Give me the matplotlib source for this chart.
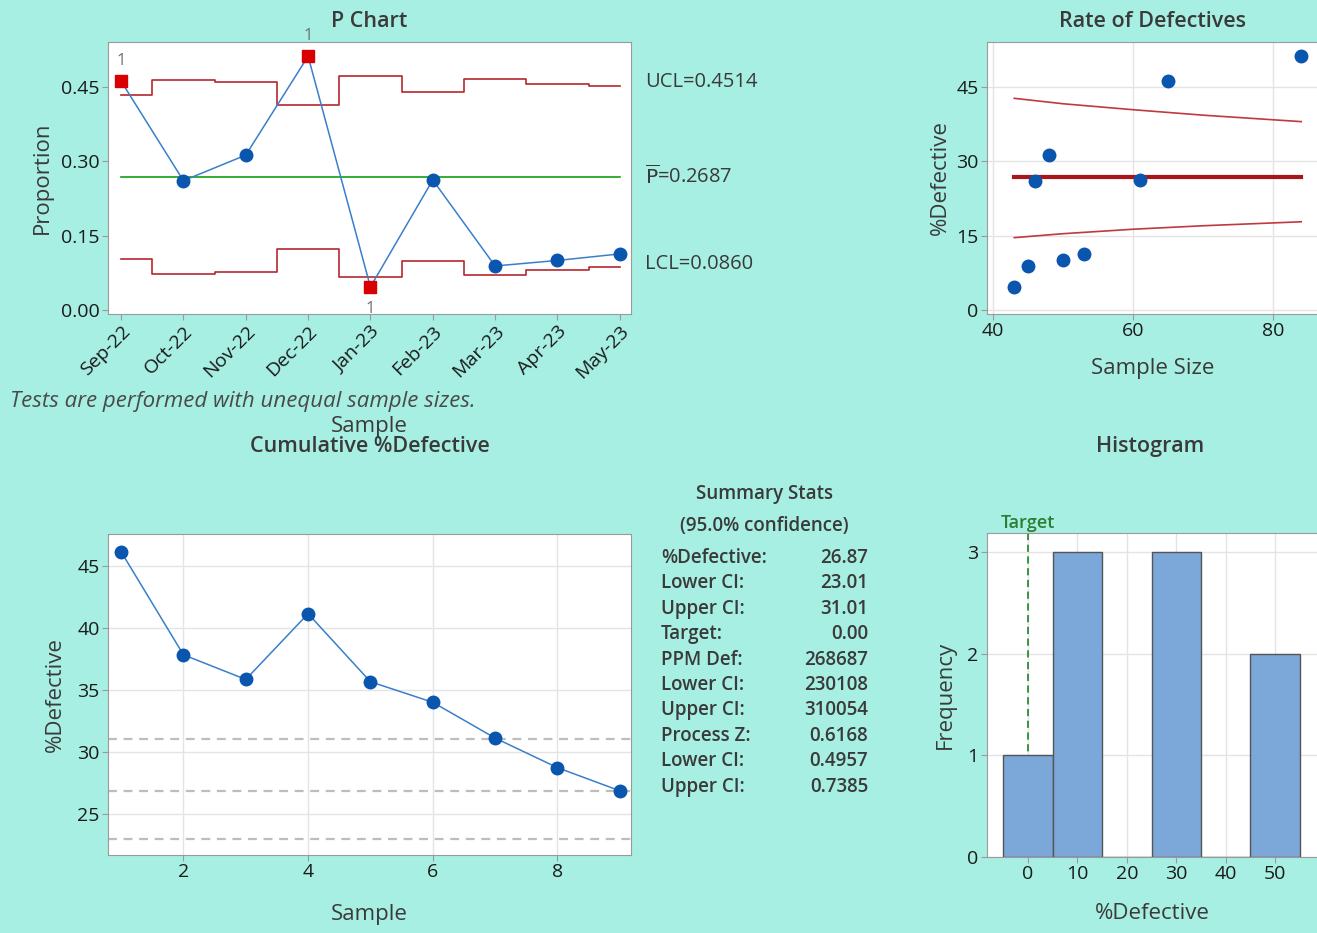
import numpy as np
import matplotlib
matplotlib.use("Agg")
import matplotlib.pyplot as plt

plt.rcParams['font.family'] = ['Open Sans', 'DejaVu Sans']

months = ['Sep-22', 'Oct-22', 'Nov-22', 'Dec-22', 'Jan-23', 'Feb-23', 'Mar-23', 'Apr-23', 'May-23']
sample_size = np.array([65, 46, 48, 84, 43, 61, 45, 50, 53])
defectives = np.array([30, 12, 15, 43, 2, 16, 4, 5, 6])
out_of_control = [0, 3, 4]   # index of samples failing test 1

# limit lines of the rate-of-defectives panel
lim_n = [43, 50, 60, 70, 84]
lim_upper = [42.7, 41.6, 40.4, 39.3, 38.0]
lim_lower = [14.6, 15.4, 16.3, 17.0, 17.8]

stat_names = ['%Defective:', 'Lower CI:', 'Upper CI:', 'Target:', 'PPM Def:', 'Lower CI:',
              'Upper CI:', 'Process Z:', 'Lower CI:', 'Upper CI:']
stat_values = ['26.87', '23.01', '31.01', '0.00', '268687', '230108', '310054', '0.6168', '0.4957', '0.7385']
ci_low, ci_high = 23.01, 31.01
target = 0.0

prop = defectives / sample_size
pbar = defectives.sum() / sample_size.sum()
sig = np.sqrt(pbar * (1 - pbar) / sample_size)
ucl = pbar + 3 * sig
lcl = np.clip(pbar - 3 * sig, 0, None)
cum_pct = 100 * np.cumsum(defectives) / np.cumsum(sample_size)
x = np.arange(1, len(months) + 1)

BG = '#A7EFE3'
BLUE = '#0A56AE'
LINE = '#3A7FCC'
RED = '#B5272D'
TXT = '#3A3A3A'
W, H = 1317, 933
TICK = 14
LAB = 16
TTL = 15.5

fig = plt.figure(figsize=(W / 100, H / 100), dpi=100, facecolor=BG)


def ax_px(l, t, r, b):
    return fig.add_axes([l / W, 1 - b / H, (r - l) / W, (b - t) / H])


def style(ax, grid=True):
    for s in ax.spines.values():
        s.set_color('#9A9A9A')
    ax.tick_params(colors='#9A9A9A', labelcolor='#1A1A1A', labelsize=TICK, length=4, pad=2)
    if grid:
        ax.grid(True, color='#E4E4E4', lw=1)
        ax.set_axisbelow(True)


def ftext(px, py, s, **kw):
    return fig.text(px / W, 1 - py / H, s, **kw)


# P chart
ax1 = ax_px(108, 42, 631, 314)
style(ax1, grid=False)
ax1.step(x, ucl, where='mid', color=RED, lw=1.2)
ax1.step(x, lcl, where='mid', color=RED, lw=1.2)
ax1.plot([1, 9], [pbar, pbar], color='#11A011', lw=1.2)
ax1.plot(x, prop, color=LINE, lw=1.1)
ok = [i for i in range(len(x)) if i not in out_of_control]
ax1.plot(x[ok], prop[ok], 'o', color=BLUE, ms=9)
ax1.plot(x[out_of_control], prop[out_of_control], 's', color='#D80000', ms=9)
for i in out_of_control:
    dy = -0.045 if prop[i] < pbar else 0.04
    ax1.text(x[i], prop[i] + dy, '1', color='#6E6E6E', ha='center', va='center', fontsize=12,
             clip_on=False)
ax1.set_xlim(0.79, 9.18)
ax1.set_ylim(-0.008, 0.5406)
ax1.set_yticks([0.0, 0.15, 0.30, 0.45])
ax1.set_yticklabels(['0.00', '0.15', '0.30', '0.45'])
ax1.set_xticks(x)
ax1.set_xticklabels(months, rotation=45, ha='right', rotation_mode='anchor')
ax1.set_ylabel('Proportion', fontsize=LAB, color=TXT, labelpad=6)
ax1.set_xlabel('Sample', fontsize=LAB, color=TXT, labelpad=24)
ax1.set_title('P Chart', fontsize=TTL, color=TXT, fontweight='semibold', pad=11)
ax1.text(9.4, ucl[-1] + 0.009, 'UCL=%.4f' % ucl[-1], fontsize=14.5, color=TXT, va='center', clip_on=False)
ax1.text(9.4, pbar, r'$\overline{\rm P}$=%.4f' % pbar, fontsize=14.5, color=TXT, va='center',
         clip_on=False)
ax1.text(9.4, lcl[-1] + 0.006, 'LCL=%.4f' % lcl[-1], fontsize=14.5, color=TXT, va='center', clip_on=False)
ftext(10, 401, 'Tests are performed with unequal sample sizes.', fontsize=16, color='#4A4A4A',
      style='italic', va='center', ha='left')

# Rate of defectives
ax2 = ax_px(987, 42, 1318, 314)
style(ax2)
ax2.plot(lim_n, lim_upper, color='#C0393F', lw=1.2)
ax2.plot(lim_n, lim_lower, color='#C0393F', lw=1.2)
ax2.plot([lim_n[0], lim_n[-1]], [100 * pbar, 100 * pbar], color='#A8161C', lw=3)
ax2.plot(sample_size, 100 * prop, 'o', color=BLUE, ms=9, zorder=3)
ax2.set_xlim(39.1, 86.4)
ax2.set_ylim(-0.8, 54.06)
ax2.set_xticks([40, 60, 80])
ax2.set_yticks([0, 15, 30, 45])
ax2.set_xlabel('Sample Size', fontsize=LAB, color=TXT, labelpad=13)
ax2.set_ylabel('%Defective', fontsize=LAB, color=TXT, labelpad=4)
ax2.set_title('Rate of Defectives', fontsize=TTL, color=TXT, fontweight='semibold', pad=11)

# Cumulative %Defective
ax3 = ax_px(108, 534, 631, 855)
style(ax3)
for v in [ci_high, 100 * pbar, ci_low]:
    ax3.axhline(v, color='#BDBDBD', lw=1.6, ls=(0, (4, 3)))
ax3.plot(x, cum_pct, '-', color=LINE, lw=1.1)
ax3.plot(x, cum_pct, 'o', color=BLUE, ms=9)
ax3.set_xlim(0.79, 9.18)
ax3.set_ylim(21.69, 47.58)
ax3.set_xticks([2, 4, 6, 8])
ax3.set_yticks([25, 30, 35, 40, 45])
ax3.set_xlabel('Sample', fontsize=LAB, color=TXT, labelpad=16)
ax3.set_ylabel('%Defective', fontsize=LAB, color=TXT, labelpad=8)
ftext(370, 447, 'Cumulative %Defective', fontsize=TTL, color=TXT, fontweight='semibold',
      ha='center', va='center')

# Summary stats
ftext(764, 494, 'Summary Stats', fontsize=13.5, color=TXT, fontweight='semibold', ha='center', va='center')
ftext(764, 526, '(95.0% confidence)', fontsize=13.5, color=TXT, fontweight='semibold', ha='center', va='center')
for k, (nm, val) in enumerate(zip(stat_names, stat_values)):
    yy = 558 + k * 25.4
    ftext(661, yy, nm, fontsize=13.5, color=TXT, fontweight='semibold', ha='left', va='center')
    ftext(868, yy, val, fontsize=13.5, color=TXT, fontweight='semibold', ha='right', va='center')

# Histogram
ax4 = ax_px(987, 533, 1318, 857)
style(ax4)
ax4.axvline(target, color='#2E8B3A', lw=1.3, ls=(0, (4, 2.5)), zorder=1)
ax4.hist(100 * prop, bins=np.arange(-5, 60, 10), color='#7BA7D9', edgecolor='#555555', lw=1, zorder=2)
ax4.set_xlim(-8.3, 58.7)
ax4.set_ylim(0, 3.19)
ax4.set_xticks([0, 10, 20, 30, 40, 50])
ax4.set_yticks([0, 1, 2, 3])
ax4.set_xlabel('%Defective', fontsize=LAB, color=TXT, labelpad=14)
ax4.set_ylabel('Frequency', fontsize=LAB, color=TXT, labelpad=8)
ax4.text(target, 3.2, 'Target', color='#2E7D32', fontsize=13, fontweight='semibold',
         ha='center', va='bottom', clip_on=False)
ftext(1150, 446, 'Histogram', fontsize=TTL, color=TXT, fontweight='semibold', ha='center', va='center')

fig.savefig('out.png', dpi=100, facecolor=BG)
